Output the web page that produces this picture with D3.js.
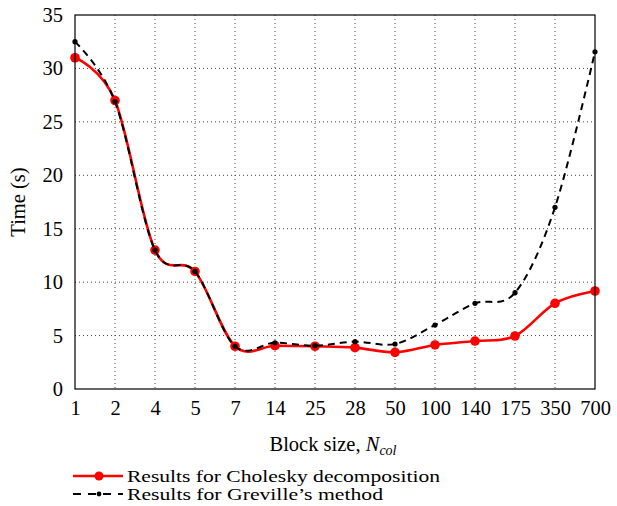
<!DOCTYPE html>
<html>
<head>
<meta charset="utf-8">
<script src="https://cdn.jsdelivr.net/npm/d3@7"></script>
<style>
  body { margin: 0; background: #fff; }
  svg text { font-family: "Liberation Serif", "DejaVu Serif", serif; fill: #000; }
</style>
</head>
<body>
<svg id="chart" width="617" height="506"></svg>
<script>
const blockSizes = ["1", "2", "4", "5", "7", "14", "25", "28", "50", "100", "140", "175", "350", "700"];
const choleskyTimes = [31, 27, 13, 11, 4, 4.05, 4.0, 3.87, 3.43, 4.12, 4.49, 4.96, 8.02, 9.17];
const grevilleTimes = [32.5, 26.9, 13, 11, 4, 4.33, 4.05, 4.43, 4.21, 5.99, 8.02, 9.01, 17.0, 31.56];
const yTicks = [0, 5, 10, 15, 20, 25, 30, 35];

const svg = d3.select("#chart");
const margin = { top: 15, right: 22, bottom: 117, left: 75 };
const width = 617 - margin.left - margin.right;
const height = 506 - margin.top - margin.bottom;

const x = d3.scalePoint().domain(blockSizes).range([0, width]).padding(0);
const y = d3.scaleLinear().domain([0, 35]).range([height, 0]);

const g = svg.append("g").attr("transform", `translate(${margin.left},${margin.top})`);

// grid
g.append("g")
	.selectAll("line")
	.data(blockSizes.slice(1, -1))
	.join("line")
	.attr("x1", (d) => x(d)).attr("x2", (d) => x(d))
	.attr("y1", 0).attr("y2", height)
	.attr("stroke", "#444").attr("stroke-width", 1).attr("stroke-dasharray", "1,3");
g.append("g")
	.selectAll("line")
	.data(yTicks.slice(1, -1))
	.join("line")
	.attr("x1", 0).attr("x2", width)
	.attr("y1", (d) => y(d)).attr("y2", (d) => y(d))
	.attr("stroke", "#444").attr("stroke-width", 1).attr("stroke-dasharray", "1,3");

// tick labels
const xAxis = g.append("g")
	.attr("transform", `translate(0,${height})`)
	.call(d3.axisBottom(x).tickSize(0).tickPadding(11));
const yAxis = g.append("g")
	.call(d3.axisLeft(y).tickValues(yTicks).tickSize(0).tickPadding(12));
[xAxis, yAxis].forEach((a) => {
	a.select(".domain").remove();
	a.selectAll("text").attr("font-size", 20.5).attr("font-family", "Liberation Serif");
});

// series
const lineOf = (vals) => d3.line()
	.x((d, i) => x(blockSizes[i]))
	.y((d) => y(d))
	.curve(d3.curveCardinal.tension(0))(vals);

g.append("path")
	.attr("d", lineOf(choleskyTimes))
	.attr("fill", "none").attr("stroke", "#ff0000").attr("stroke-width", 2.6);
g.append("g").selectAll("circle")
	.data(choleskyTimes)
	.join("circle")
	.attr("cx", (d, i) => x(blockSizes[i])).attr("cy", (d) => y(d))
	.attr("r", 4.8).attr("fill", "#ff0000");

g.append("path")
	.attr("d", lineOf(grevilleTimes))
	.attr("fill", "none").attr("stroke", "#000").attr("stroke-width", 2)
	.attr("stroke-dasharray", "7,5");
g.append("g").selectAll("circle")
	.data(grevilleTimes)
	.join("circle")
	.attr("cx", (d, i) => x(blockSizes[i])).attr("cy", (d) => y(d))
	.attr("r", 2.6).attr("fill", "#000");

// frame
g.append("rect")
	.attr("width", width).attr("height", height)
	.attr("fill", "none").attr("stroke", "#000").attr("stroke-width", 1.2);

// axis titles
svg.append("text")
	.attr("transform", `translate(25,${margin.top + height / 2}) rotate(-90)`)
	.attr("text-anchor", "middle")
	.attr("font-size", 20.5)
	.text("Time (s)");

const xt = svg.append("text")
	.attr("x", margin.left + width / 2 - 2).attr("y", 451)
	.attr("text-anchor", "middle")
	.attr("font-size", 20.5);
xt.append("tspan").text("Block size, ");
xt.append("tspan").attr("font-style", "italic").text("N");
xt.append("tspan").attr("font-style", "italic").attr("font-size", 14).attr("dy", 4).text("col");

// legend
const legend = svg.append("g").attr("transform", "translate(73,476)");
legend.append("line").attr("x1", 0).attr("x2", 50).attr("y1", 0).attr("y2", 0)
	.attr("stroke", "#ff0000").attr("stroke-width", 2.6);
legend.append("circle").attr("cx", 26).attr("cy", 0).attr("r", 4.5).attr("fill", "#ff0000");
legend.append("text").attr("x", 54).attr("y", 5.5).attr("font-size", 17)
	.attr("textLength", 313).attr("lengthAdjust", "spacingAndGlyphs")
	.text("Results for Cholesky decomposition");
legend.append("line").attr("x1", 0).attr("x2", 50).attr("y1", 18).attr("y2", 18)
	.attr("stroke", "#000").attr("stroke-width", 2).attr("stroke-dasharray", "8,7");
legend.append("circle").attr("cx", 26).attr("cy", 18).attr("r", 2.4).attr("fill", "#000");
legend.append("text").attr("x", 54).attr("y", 23.5).attr("font-size", 17)
	.attr("textLength", 256).attr("lengthAdjust", "spacingAndGlyphs")
	.text("Results for Greville\u2019s method");
</script>
</body>
</html>
